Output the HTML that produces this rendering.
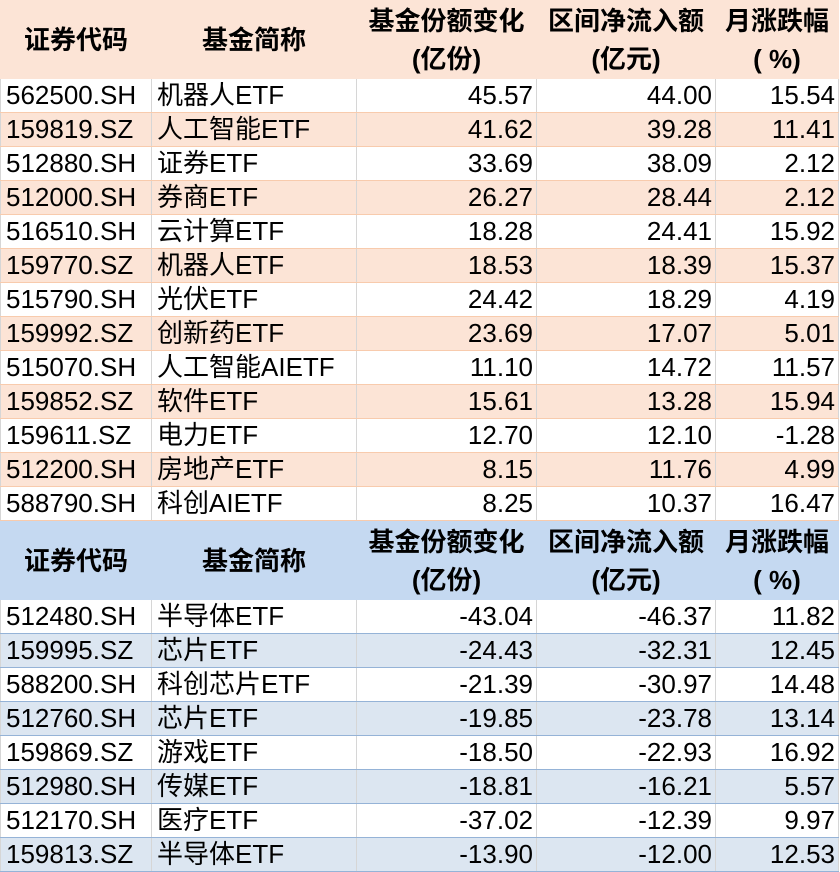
<!DOCTYPE html>
<html><head><meta charset="utf-8"><style>
body{margin:0;width:840px;height:871px;overflow:hidden;background:#fff;font-family:"Liberation Sans","Noto Sans CJK SC",sans-serif;}
table{border-collapse:collapse;table-layout:fixed;width:838px;position:absolute;left:0;}
td{padding:0 3px 0 5px;height:33px;font-size:26px;color:#000;white-space:nowrap;overflow:hidden;border:1px solid #d6d6d6;line-height:33px;}
td.n{text-align:right;}
tr.h td{height:77px;font-weight:bold;font-size:26px;text-align:center;line-height:38px;padding:0;}
.o tr.h td{background:#fce4d6;border-color:#fce4d6;}
.o tr.a td{background:#fce4d6;}
.o td{border-top:1px solid #f8cbad;border-bottom:1px solid #f8cbad;}
.b tr.h td{background:#c5d9f1;border-color:#c5d9f1;}
.b tr.a td{background:#dce6f1;}
.b td{border-top:1px solid #95b3d7;border-bottom:1px solid #95b3d7;}
</style></head><body>
<table class="o" style="top:0">
<colgroup><col style="width:151px"><col style="width:205px"><col style="width:180px"><col style="width:179px"><col style="width:123px"></colgroup>
<tr class="h"><td>证券代码</td><td>基金简称</td><td>基金份额变化<br>(亿份)</td><td>区间净流入额<br>(亿元)</td><td>月涨跌幅<br>( %)</td></tr>
<tr><td>562500.SH</td><td>机器人ETF</td><td class="n">45.57</td><td class="n">44.00</td><td class="n">15.54</td></tr>
<tr class="a"><td>159819.SZ</td><td>人工智能ETF</td><td class="n">41.62</td><td class="n">39.28</td><td class="n">11.41</td></tr>
<tr><td>512880.SH</td><td>证券ETF</td><td class="n">33.69</td><td class="n">38.09</td><td class="n">2.12</td></tr>
<tr class="a"><td>512000.SH</td><td>券商ETF</td><td class="n">26.27</td><td class="n">28.44</td><td class="n">2.12</td></tr>
<tr><td>516510.SH</td><td>云计算ETF</td><td class="n">18.28</td><td class="n">24.41</td><td class="n">15.92</td></tr>
<tr class="a"><td>159770.SZ</td><td>机器人ETF</td><td class="n">18.53</td><td class="n">18.39</td><td class="n">15.37</td></tr>
<tr><td>515790.SH</td><td>光伏ETF</td><td class="n">24.42</td><td class="n">18.29</td><td class="n">4.19</td></tr>
<tr class="a"><td>159992.SZ</td><td>创新药ETF</td><td class="n">23.69</td><td class="n">17.07</td><td class="n">5.01</td></tr>
<tr><td>515070.SH</td><td>人工智能AIETF</td><td class="n">11.10</td><td class="n">14.72</td><td class="n">11.57</td></tr>
<tr class="a"><td>159852.SZ</td><td>软件ETF</td><td class="n">15.61</td><td class="n">13.28</td><td class="n">15.94</td></tr>
<tr><td>159611.SZ</td><td>电力ETF</td><td class="n">12.70</td><td class="n">12.10</td><td class="n">-1.28</td></tr>
<tr class="a"><td>512200.SH</td><td>房地产ETF</td><td class="n">8.15</td><td class="n">11.76</td><td class="n">4.99</td></tr>
<tr><td>588790.SH</td><td>科创AIETF</td><td class="n">8.25</td><td class="n">10.37</td><td class="n">16.47</td></tr>
</table>
<table class="b" style="top:521px">
<colgroup><col style="width:151px"><col style="width:205px"><col style="width:180px"><col style="width:179px"><col style="width:123px"></colgroup>
<tr class="h"><td>证券代码</td><td>基金简称</td><td>基金份额变化<br>(亿份)</td><td>区间净流入额<br>(亿元)</td><td>月涨跌幅<br>( %)</td></tr>
<tr><td>512480.SH</td><td>半导体ETF</td><td class="n">-43.04</td><td class="n">-46.37</td><td class="n">11.82</td></tr>
<tr class="a"><td>159995.SZ</td><td>芯片ETF</td><td class="n">-24.43</td><td class="n">-32.31</td><td class="n">12.45</td></tr>
<tr><td>588200.SH</td><td>科创芯片ETF</td><td class="n">-21.39</td><td class="n">-30.97</td><td class="n">14.48</td></tr>
<tr class="a"><td>512760.SH</td><td>芯片ETF</td><td class="n">-19.85</td><td class="n">-23.78</td><td class="n">13.14</td></tr>
<tr><td>159869.SZ</td><td>游戏ETF</td><td class="n">-18.50</td><td class="n">-22.93</td><td class="n">16.92</td></tr>
<tr class="a"><td>512980.SH</td><td>传媒ETF</td><td class="n">-18.81</td><td class="n">-16.21</td><td class="n">5.57</td></tr>
<tr><td>512170.SH</td><td>医疗ETF</td><td class="n">-37.02</td><td class="n">-12.39</td><td class="n">9.97</td></tr>
<tr class="a"><td>159813.SZ</td><td>半导体ETF</td><td class="n">-13.90</td><td class="n">-12.00</td><td class="n">12.53</td></tr>
</table>
</body></html>
